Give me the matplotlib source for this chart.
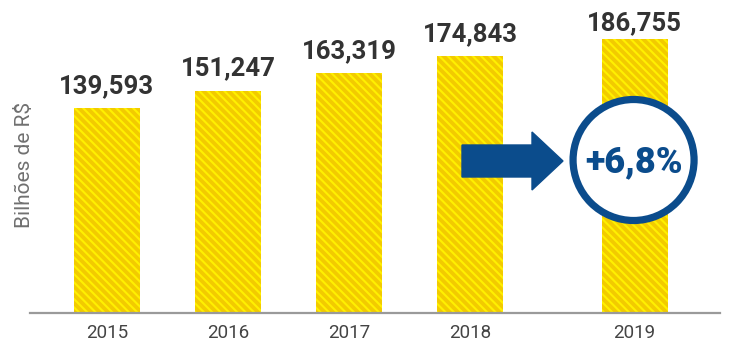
import matplotlib
matplotlib.use("Agg")
import matplotlib.pyplot as plt
from matplotlib.patches import Circle, Polygon

anos = ["2015", "2016", "2017", "2018", "2019"]
valores = [139.593, 151.247, 163.319, 174.843, 186.755]
rotulos = ["139,593", "151,247", "163,319", "174,843", "186,755"]
variacao = "+6,8%"

posicoes = [0, 1, 2, 3, 4.36]

azul = "#0B4C8C"
plt.rcParams["hatch.linewidth"] = 1.5
bold_font = ["Roboto", "DejaVu Sans"]

fig = plt.figure(figsize=(7.3, 3.55), dpi=100)
ax = fig.add_axes([30 / 730, 42 / 355, 690 / 730, 313 / 355])

bars = ax.bar(posicoes, valores, width=0.545, facecolor="#F2CB00",
              hatch="\\\\\\\\", edgecolor="#FFF000", linewidth=0)

for i, (x, v, r) in enumerate(zip(posicoes, valores, rotulos)):
    # last label sits a bit closer to its bar
    dy = 6.5 if i == len(valores) - 1 else 11
    ax.annotate(r, (x, v), xytext=(0, dy), textcoords="offset points",
                ha="center", va="baseline", fontsize=18.5, fontweight="bold",
                color="#333333", family=bold_font)

ax.set_xlim(-0.636, 5.066)
ax.set_ylim(0, 213.2)
ax.set_xticks(posicoes)
ax.set_xticklabels(anos, fontsize=13.5, color="#444444", family=["Roboto", "DejaVu Sans"])
ax.tick_params(axis="x", length=0, pad=8)
ax.set_yticks([])
for s in ["top", "right", "left"]:
    ax.spines[s].set_visible(False)
ax.spines["bottom"].set_color("#9A9A9A")
ax.spines["bottom"].set_linewidth(1.6)

fig.text(25 / 730, 1 - 165 / 355, "Bilhões de R$", rotation=90, ha="center",
         va="center", fontsize=15, color="#707070", family=["Roboto", "DejaVu Sans"])

# overlay in pixel coords for the arrow and the circle
ov = fig.add_axes([0, 0, 1, 1])
ov.set_xlim(0, 730)
ov.set_ylim(355, 0)
ov.axis("off")

cx = ax.transData.transform((posicoes[-1], 0))[0] - 1
cy = 160
seta = Polygon([(462, 145), (532, 145), (532, 132), (563, 161), (532, 190),
                (532, 177), (462, 177)], closed=True, color=azul)
ov.add_patch(seta)
ov.add_patch(Circle((cx, cy), 60.5, facecolor="white", edgecolor=azul, linewidth=5.2))
ov.text(cx, cy + 2, variacao, ha="center", va="center", fontsize=26,
        fontweight="black", color=azul, family=bold_font)

fig.savefig("out.png", dpi=100)
